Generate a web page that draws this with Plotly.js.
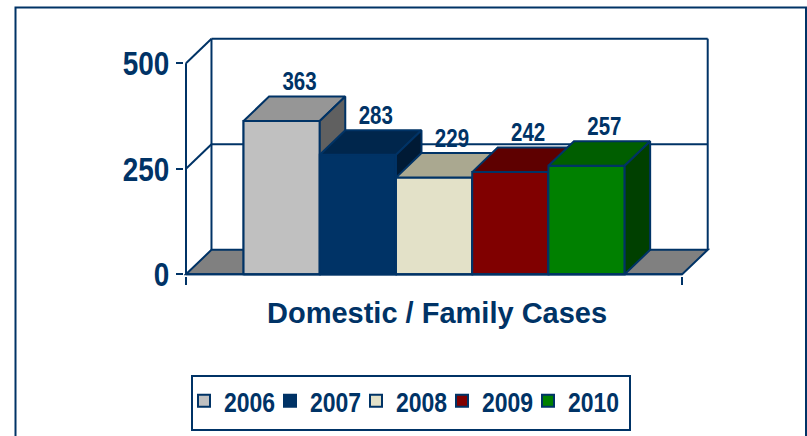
<!DOCTYPE html>
<html><head><meta charset="utf-8">
<script src="https://cdn.plot.ly/plotly-3.0.1.min.js"></script>
<style>html,body{margin:0;padding:0;background:#fff;} #chart{width:807px;height:436px;}</style>
</head><body><div id="chart"></div>
<script>
// ---- data ----
const category = "Domestic / Family Cases";
const years = ["2006", "2007", "2008", "2009", "2010"];
const values = [363, 283, 229, 242, 257];
const yTickVals = [0, 250, 500];
const yTickText = ["0", "250", "500"];

// ---- styles ----
const frontColors = ["#C0C0C0", "#003366", "#E3E1C8", "#800000", "#008000"];
const topColors   = ["#969696", "#00264C", "#AAA890", "#5E0000", "#005E00"];
const sideColors  = ["#606060", "#001A35", "#8C8A74", "#400000", "#004000"];
const edge = "#003366";
const font = "Liberation Sans, Arial, sans-serif";
const NARROW = 0.82; // digits in the reference use a narrow face

// ---- geometry ----
const W = 807, H = 436;
const M = {l: 184, r: 97, t: 37, b: 160, autoexpand: false};
const xRange = [-0.504, 0.556];
const yRange = [-4, 562];
const plotW = W - M.l - M.r, plotH = H - M.t - M.b;
const pxX = plotW / (xRange[1] - xRange[0]);
const pxY = plotH / (yRange[1] - yRange[0]);
const DX = 25.5 / pxX, DY = 24.5 / pxY;   // 3-D depth offset in data units
const groupW = 0.768, bw = groupW / values.length;
const px2paperX = p => (p - M.l) / plotW;
const px2paperY = p => (M.t + plotH - p) / plotH;

const traces = [];
// legend / base bars (front faces)
values.forEach((v, i) => {
  traces.push({
    type: "bar", x: [0], y: [v], name: years[i],
    width: [bw], offset: [-groupW / 2 + i * bw],
    marker: {color: frontColors[i], line: {color: edge, width: 2}},
    hoverinfo: "skip"
  });
});
// 3-D faces drawn in order so later bars cover earlier side faces
values.forEach((v, i) => {
  const L = -groupW / 2 + i * bw, R = L + bw;
  const face = (xs, ys, c) => traces.push({
    type: "scatter", mode: "lines", x: xs, y: ys, fill: "toself", fillcolor: c,
    line: {color: edge, width: 2}, showlegend: false, hoverinfo: "skip"
  });
  face([L, R, R, L, L], [0, 0, v, v, 0], frontColors[i]);
  face([L, R, R + DX, L + DX, L], [v, v, v + DY, v + DY, v], topColors[i]);
  face([R, R + DX, R + DX, R, R], [0, DY, v + DY, v, 0], sideColors[i]);
});
// value labels
traces.push({
  type: "scatter", mode: "text",
  x: values.map((v, i) => -groupW / 2 + (i + 0.5) * bw + 0.7 * DX),
  y: values.map(v => v + DY),
  text: values.map(String), textposition: "top center",
  textfont: {family: font, size: 25, weight: 700, color: edge},
  showlegend: false, hoverinfo: "skip", cliponaxis: false
});

const shapes = [];
const ln = (x0, y0, x1, y1, layer) => shapes.push({type: "line", xref: "x", yref: "y", x0, y0, x1, y1, layer: layer || "below", line: {color: edge, width: 2}});
// floor
shapes.push({type: "path", xref: "x", yref: "y", layer: "below",
  path: `M${-0.5},0 L${-0.5 + DX},${DY} L${0.5 + DX},${DY} L0.5,0 Z`,
  fillcolor: "#808080", line: {color: edge, width: 2}});
// back wall & side wall grid
ln(-0.5 + DX, DY, -0.5 + DX, 500 + DY);
ln(0.5 + DX, DY, 0.5 + DX, 500 + DY);
[250, 500].forEach(t => {
  ln(-0.5, t, -0.5 + DX, t + DY);
  ln(-0.5 + DX, t + DY, 0.5 + DX, t + DY);
});
// front axes
ln(-0.5, 0, -0.5, 500);
ln(-0.5, 0, 0.5, 0, "above");
// outer frame
shapes.push({type: "rect", xref: "paper", yref: "paper", layer: "below",
  x0: px2paperX(15.5), x1: px2paperX(806), y0: px2paperY(445), y1: px2paperY(7.5),
  line: {color: edge, width: 2}, fillcolor: "rgba(0,0,0,0)"});
// legend frame
shapes.push({type: "rect", xref: "paper", yref: "paper", layer: "below",
  x0: px2paperX(192), x1: px2paperX(630), y0: px2paperY(430), y1: px2paperY(376),
  line: {color: edge, width: 2}, fillcolor: "#fff"});

const layout = {
  width: W, height: H, margin: M, showlegend: true,
  paper_bgcolor: "#fff", plot_bgcolor: "rgba(0,0,0,0)",
  barmode: "overlay",
  xaxis: {range: xRange, showgrid: false, zeroline: false, showline: false,
    tickvals: [-0.5, 0.5], ticktext: ["", ""], ticks: "outside", ticklen: 8, tickwidth: 2, tickcolor: edge,
    fixedrange: true},
  yaxis: {range: yRange, showgrid: false, zeroline: false, showline: false,
    tickvals: yTickVals, ticktext: yTickText, ticks: "outside", ticklen: 7, tickwidth: 2, tickcolor: edge,
    tickfont: {family: font, size: 34, weight: 700, color: edge}, fixedrange: true},
  shapes: shapes,
  annotations: [{
    text: category, xref: "paper", yref: "paper",
    x: px2paperX(436.5), y: px2paperY(313), xanchor: "center", yanchor: "middle",
    showarrow: false, font: {family: font, size: 29, weight: 700, color: edge}
  }],
  legend: {
    orientation: "h", x: px2paperX(184), y: px2paperY(376), xanchor: "left", yanchor: "top",
    borderwidth: 0, bgcolor: "rgba(0,0,0,0)", entrywidth: 41, entrywidthmode: "pixels",
    itemwidth: 30,
    font: {family: font, size: 28, weight: 700, color: edge},
    itemclick: false, itemdoubleclick: false, traceorder: "normal"
  }
};
Plotly.newPlot("chart", traces, layout, {displayModeBar: false, staticPlot: true}).then(gd => {
  // render the numeric labels in a narrow proportion like the reference face
  gd.querySelectorAll(".ytick text, .legendtext, .textpoint text").forEach(t => {
    const w = t.getComputedTextLength();
    t.setAttribute("textLength", (w * NARROW).toFixed(2));
    t.setAttribute("lengthAdjust", "spacingAndGlyphs");
  });
  // the legend frame is drawn as a shape; let the last entry extend to it
  gd.querySelectorAll(".legend .scrollbox").forEach(s => s.removeAttribute("clip-path"));
});
</script></body></html>
